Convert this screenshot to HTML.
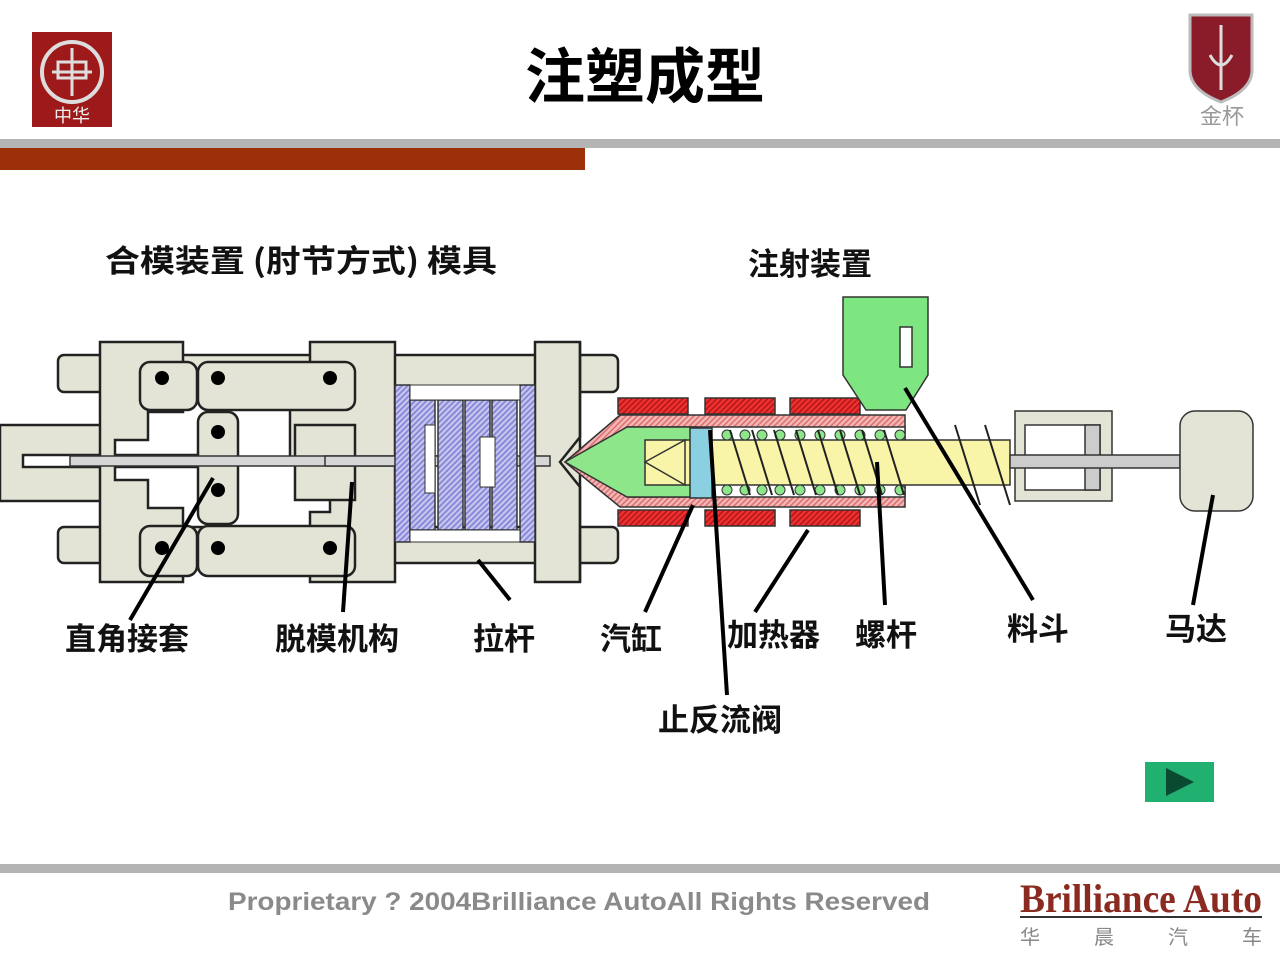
<!DOCTYPE html>
<html><head><meta charset="utf-8"><style>
body{margin:0;width:1280px;height:960px;background:#fff;overflow:hidden;position:relative;font-family:"Liberation Sans","Noto Sans CJK SC",sans-serif}
</style></head><body>
<svg width="1280" height="960" viewBox="0 0 1280 960" xmlns="http://www.w3.org/2000/svg" style="position:absolute;left:0;top:0">
<defs>
<pattern id="hb" width="4" height="4" patternUnits="userSpaceOnUse" patternTransform="rotate(45)"><rect width="4" height="4" fill="#c8c8f0"/><rect width="2" height="4" fill="#8a8ad8"/></pattern>
<pattern id="hp" width="4" height="4" patternUnits="userSpaceOnUse" patternTransform="rotate(45)"><rect width="4" height="4" fill="#f5b5b5"/><rect width="1.5" height="4" fill="#d87070"/></pattern>
<pattern id="hr" width="4" height="4" patternUnits="userSpaceOnUse" patternTransform="rotate(45)"><rect width="4" height="4" fill="#f03030"/><rect width="1.5" height="4" fill="#b01818"/></pattern>
</defs>
<!-- header -->
<rect x="32" y="32" width="80" height="95" fill="#9e1a1a"/>
<circle cx="72" cy="72" r="30" fill="none" stroke="#ddd" stroke-width="4"/>
<path d="M52 72h40M72 48v48M58 62h28v16H58z" stroke="#ddd" stroke-width="3" fill="none"/>
<text x="72" y="122" font-size="18" fill="#eee" text-anchor="middle" font-family="Noto Sans CJK SC">中华</text>
<text x="645" y="98" font-size="60" font-weight="bold" text-anchor="middle" font-family="Noto Sans CJK SC" fill="#000">注塑成型</text>
<path d="M1190 15h62v55q0 20-31 32q-31-12-31-32z" fill="#8a1c2a" stroke="#bbb" stroke-width="3"/>
<path d="M1221 25v65M1210 55q11 20 22 0" stroke="#ddd" stroke-width="3" fill="none"/>
<text x="1222" y="124" font-size="22" fill="#999" text-anchor="middle" font-family="Noto Sans CJK SC">金杯</text>
<rect x="0" y="139" width="1280" height="9" fill="#b4b4b4"/>
<rect x="0" y="148" width="585" height="22" fill="#9c3008"/>
<!-- footer -->
<rect x="0" y="864" width="1280" height="9" fill="#b4b4b4"/>
<text x="228" y="910" font-size="25" font-weight="bold" fill="#8a8a8a" textLength="702" lengthAdjust="spacingAndGlyphs">Proprietary  ?  2004Brilliance AutoAll Rights Reserved</text>
<text x="1020" y="912" font-size="40" font-weight="bold" fill="#8a2a20" font-family="Liberation Serif" textLength="242" lengthAdjust="spacingAndGlyphs">Brilliance Auto</text>
<rect x="1020" y="916" width="242" height="2" fill="#333"/>
<text x="1020" y="944" font-size="20" fill="#888" font-family="Noto Sans CJK SC" textLength="242">华　晨　汽　车</text>
<rect x="1145" y="762" width="69" height="40" fill="#20b070"/>
<polygon points="1166,768 1166,796 1194,782" fill="#0a4a30"/>
<!-- titles -->
<g font-family="Noto Sans CJK SC" font-size="31" font-weight="bold" fill="#111">
<text x="105" y="272" textLength="392" lengthAdjust="spacingAndGlyphs">合模装置 (肘节方式) 模具</text>
<text x="748" y="275">注射装置</text>
<text x="65" y="650">直角接套</text>
<text x="275" y="650">脱模机构</text>
<text x="473" y="650">拉杆</text>
<text x="600" y="650">汽缸</text>
<text x="727" y="646">加热器</text>
<text x="855" y="646">螺杆</text>
<text x="1007" y="640">料斗</text>
<text x="1165" y="640">马达</text>
<text x="658" y="731">止反流阀</text>
</g>
<!-- clamp unit -->
<g stroke="#222" stroke-width="2.5" fill="#e4e4d6">
<rect x="58" y="355" width="560" height="37" rx="6"/>
<rect x="58" y="527" width="560" height="36" rx="6"/>
<rect x="0" y="425" width="105" height="76"/>
<rect x="23" y="455" width="190" height="12" fill="#fff"/>
<path d="M100 342h83v70h-35v28h-33v40h33v28h35v74h-83z"/>
<path d="M310 342h85v240h-85v-70h20v-50h-40v-56h40v-24h-20z"/>
<rect x="295" y="425" width="60" height="75"/>
<rect x="535" y="342" width="45" height="240"/>
<path d="M580 342l0 95l-20 25l20 25l0 95" fill="none"/>
<rect x="140" y="362" width="57" height="48" rx="10"/>
<rect x="198" y="362" width="157" height="48" rx="10"/>
<rect x="140" y="526" width="57" height="50" rx="10"/>
<rect x="198" y="526" width="157" height="50" rx="10"/>
<rect x="198" y="412" width="40" height="112" rx="10"/>
</g>
<rect x="70" y="456" width="400" height="10" fill="#d6d6d6" stroke="#333" stroke-width="1.5"/>
<rect x="325" y="456" width="225" height="10" fill="#d6d6d6" stroke="#333" stroke-width="1.5"/>
<g fill="#000">
<circle cx="162" cy="378" r="7"/><circle cx="218" cy="378" r="7"/><circle cx="330" cy="378" r="7"/>
<circle cx="218" cy="432" r="7"/><circle cx="218" cy="490" r="7"/>
<circle cx="162" cy="548" r="7"/><circle cx="218" cy="548" r="7"/><circle cx="330" cy="548" r="7"/>
</g>
<!-- mold -->
<g stroke="#333" stroke-width="1.5" fill="url(#hb)">
<rect x="395" y="385" width="15" height="157"/>
<rect x="410" y="400" width="25" height="130"/>
<rect x="438" y="400" width="25" height="130"/>
<rect x="465" y="400" width="25" height="130"/>
<rect x="492" y="400" width="25" height="130"/>
<rect x="520" y="385" width="15" height="157"/>
</g>
<rect x="410" y="385" width="110" height="15" fill="#fff" stroke="#333"/>
<rect x="410" y="530" width="110" height="12" fill="#fff" stroke="#333"/>
<rect x="425" y="425" width="10" height="68" fill="#fff" stroke="#333"/>
<rect x="480" y="437" width="15" height="50" fill="#fff" stroke="#333"/>
<!-- barrel -->
<g stroke="#333" stroke-width="1.5">
<rect x="618" y="398" width="70" height="16" fill="url(#hr)"/>
<rect x="705" y="398" width="70" height="16" fill="url(#hr)"/>
<rect x="790" y="398" width="70" height="16" fill="url(#hr)"/>
<rect x="618" y="510" width="70" height="16" fill="url(#hr)"/>
<rect x="705" y="510" width="70" height="16" fill="url(#hr)"/>
<rect x="790" y="510" width="70" height="16" fill="url(#hr)"/>
<path d="M565 462l55-47h285v92h-285z" fill="url(#hp)"/>
<path d="M580 462l47-35h278v70h-278z" fill="#fff"/>
<path d="M565 462l62-35h70v70h-70z" fill="#8ee68a"/>
<rect x="645" y="440" width="365" height="45" fill="#f8f4a8"/>
<path d="M645 462l40-22v45z" fill="#f8f4a8"/>
<rect x="690" y="428" width="22" height="70" fill="#8ad0e0"/>
<path d="M843 297h85v78l-22 35h-40l-23-35z" fill="#7ee680"/>
<rect x="900" y="327" width="12" height="40" fill="#fff"/>
<rect x="1015" y="411" width="97" height="90" fill="#e4e4d6"/>
<rect x="1025" y="425" width="75" height="65" fill="#fff"/>
<rect x="1085" y="425" width="15" height="65" fill="#ccc"/>
<rect x="1010" y="455" width="170" height="13" fill="#ccc"/>
<rect x="1180" y="411" width="73" height="100" rx="15" fill="#e4e4d6"/>
</g>
<g fill="#8ee68a" stroke="#333" stroke-width="1">
<circle cx="727" cy="435" r="5"/><circle cx="745" cy="435" r="5"/><circle cx="762" cy="435" r="5"/><circle cx="780" cy="435" r="5"/><circle cx="800" cy="435" r="5"/><circle cx="820" cy="435" r="5"/><circle cx="840" cy="435" r="5"/><circle cx="860" cy="435" r="5"/><circle cx="880" cy="435" r="5"/><circle cx="900" cy="435" r="5"/>
<circle cx="727" cy="490" r="5"/><circle cx="745" cy="490" r="5"/><circle cx="762" cy="490" r="5"/><circle cx="780" cy="490" r="5"/><circle cx="800" cy="490" r="5"/><circle cx="820" cy="490" r="5"/><circle cx="840" cy="490" r="5"/><circle cx="860" cy="490" r="5"/><circle cx="880" cy="490" r="5"/><circle cx="900" cy="490" r="5"/>
</g>
<g stroke="#222" stroke-width="2">
<path d="M730 430l20 65M752 430l20 65M774 430l20 65M796 430l20 65M818 430l20 65M840 430l20 65M862 430l20 65M884 430l20 65M955 425l25 80M985 425l25 80"/>
</g>
<!-- leaders -->
<g stroke="#000" stroke-width="4" fill="none">
<path d="M130 620L213 478"/><path d="M343 612L352 482"/><path d="M510 600L478 560"/>
<path d="M645 612L693 505"/><path d="M727 695L710 430"/><path d="M755 612L808 530"/>
<path d="M885 605L877 462"/><path d="M1033 600L905 388"/><path d="M1193 605L1213 495"/>
</g>
</svg>
</body></html>
